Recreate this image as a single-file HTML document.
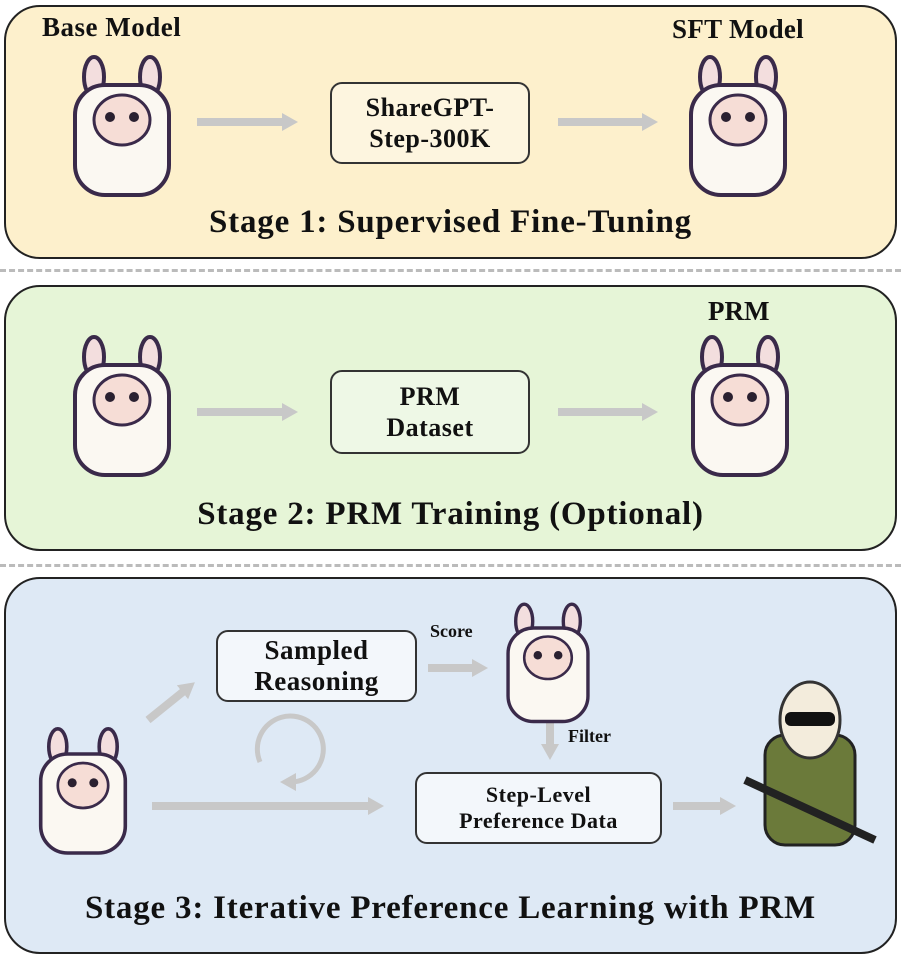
<!DOCTYPE html><html><head><style>
body{margin:0;width:901px;height:960px;background:#fff;position:relative;overflow:hidden;font-family:"Liberation Serif",serif;font-weight:bold;color:#111}
.p{position:absolute;left:4px;width:889px;border:2.5px solid #222;border-radius:36px}
.t{position:absolute;white-space:nowrap;text-align:center}
.b{position:absolute;border:2px solid #333;border-radius:12px;display:flex;align-items:center;justify-content:center;text-align:center;line-height:1.2;letter-spacing:.5px}
.d{position:absolute;left:0;width:901px;border-top:3px dashed #bbb}
svg{position:absolute;left:0;top:0}
.ti{font-size:33px;letter-spacing:.8px}
</style></head><body>
<div class="p" style="top:5px;height:250px;background:#fdf0cc"></div>
<div class="d" style="top:269px"></div>
<div class="p" style="top:285px;height:262px;background:#e6f5d7"></div>
<div class="d" style="top:564px"></div>
<div class="p" style="top:577px;height:373px;background:#dee9f5"></div>

<div class="t" style="left:42px;top:12px;font-size:27px;letter-spacing:.5px">Base Model</div>
<div class="t" style="left:672px;top:14px;font-size:27px;letter-spacing:.3px">SFT Model</div>
<div class="b" style="left:330px;top:82px;width:196px;height:78px;background:#fdf5df;font-size:26px">ShareGPT-<br>Step-300K</div>
<div class="t ti" style="left:0;width:901px;top:204px">Stage 1: Supervised Fine-Tuning</div>

<div class="t" style="left:708px;top:296px;font-size:27px">PRM</div>
<div class="b" style="left:330px;top:370px;width:196px;height:80px;background:#eef8e6;font-size:26px">PRM<br>Dataset</div>
<div class="t ti" style="left:0;width:901px;top:496px">Stage 2: PRM Training (Optional)</div>

<div class="b" style="left:216px;top:630px;width:197px;height:68px;background:#f3f7fb;font-size:27px;line-height:1.15">Sampled<br>Reasoning</div>
<div class="t" style="left:430px;top:621px;font-size:18px">Score</div>
<div class="t" style="left:568px;top:726px;font-size:18px">Filter</div>
<div class="b" style="left:415px;top:772px;width:243px;height:68px;background:#f3f7fb;font-size:22px">Step-Level<br>Preference Data</div>
<div class="t ti" style="left:0;width:901px;top:890px">Stage 3: Iterative Preference Learning with PRM</div>

<svg width="901" height="960">
<defs><marker id="a" markerUnits="userSpaceOnUse" markerWidth="16" markerHeight="18" refX="2" refY="9" orient="auto"><path d="M0,0L16,9L0,18z" fill="#c8c8c8"/></marker>
<g id="l">
<ellipse cx="-28" cy="-48" rx="10" ry="20" fill="#f3dede" stroke="#3a2a4a" stroke-width="4"/>
<ellipse cx="28" cy="-48" rx="10" ry="20" fill="#f3dede" stroke="#3a2a4a" stroke-width="4"/>
<rect x="-47" y="-40" width="94" height="110" rx="30" fill="#fbf8f2" stroke="#3a2a4a" stroke-width="4"/>
<ellipse cx="0" cy="-5" rx="28" ry="25" fill="#f6ddd6" stroke="#3a2a4a" stroke-width="3"/>
<circle cx="-12" cy="-8" r="5" fill="#2a2030"/><circle cx="12" cy="-8" r="5" fill="#2a2030"/>
</g></defs>
<g stroke="#c8c8c8" stroke-width="8" fill="none" marker-end="url(#a)">
<line x1="197" y1="122" x2="284" y2="122"/><line x1="558" y1="122" x2="644" y2="122"/>
<line x1="197" y1="412" x2="284" y2="412"/><line x1="558" y1="412" x2="644" y2="412"/>
<line x1="428" y1="668" x2="474" y2="668"/><line x1="550" y1="718" x2="550" y2="746"/>
<line x1="673" y1="806" x2="722" y2="806"/><line x1="148" y1="720" x2="184" y2="691"/>
<line x1="152" y1="806" x2="370" y2="806"/>
</g>
<path d="M260,762 A33,33 0 1 1 292,782" stroke="#c8c8c8" stroke-width="5" fill="none"/>
<path d="M280,782 L296,773 L296,791 z" fill="#c8c8c8"/>
<use href="#l" transform="translate(122,125)"/>
<use href="#l" transform="translate(738,125)"/>
<use href="#l" transform="translate(122,405)"/>
<use href="#l" transform="translate(740,405)"/>
<use href="#l" transform="translate(548,662) scale(0.85)"/>
<use href="#l" transform="translate(83,790) scale(0.9)"/>
<rect x="765" y="735" width="90" height="110" rx="20" fill="#6b7a3a" stroke="#222" stroke-width="3"/>
<ellipse cx="810" cy="720" rx="30" ry="38" fill="#f3ecdc" stroke="#333" stroke-width="3"/>
<rect x="785" y="712" width="50" height="14" rx="6" fill="#111"/>
<line x1="745" y1="780" x2="875" y2="840" stroke="#222" stroke-width="8"/>
</svg>
</body></html>
